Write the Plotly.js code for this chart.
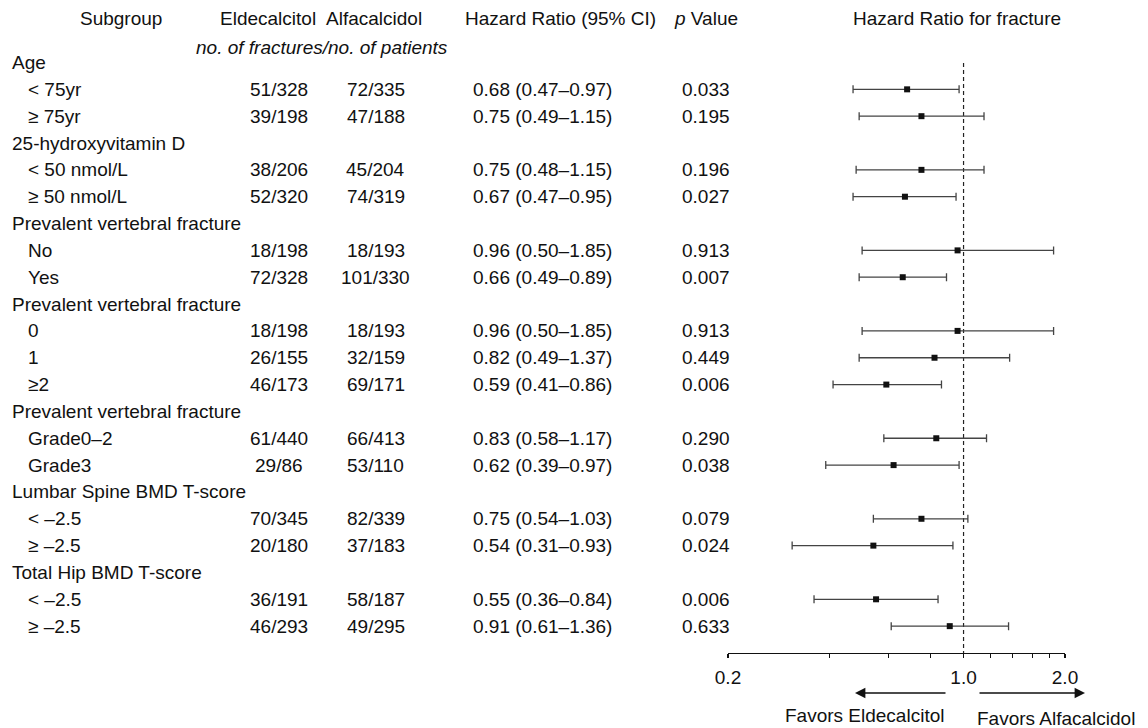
<!DOCTYPE html>
<html>
<head>
<meta charset="utf-8">
<script src="https://cdn.plot.ly/plotly-3.0.1.min.js"></script>
<style>html,body{margin:0;padding:0;background:#fff;}#chart{width:1148px;height:728px;}</style>
</head>
<body>
<div id="chart"></div>
<script>
// ---- data ----
var groupNames = ["Age", "25-hydroxyvitamin D", "Prevalent vertebral fracture", "Prevalent vertebral fracture",
                  "Prevalent vertebral fracture", "Lumbar Spine BMD T-score", "Total Hip BMD T-score"];
var groupSizes = [2, 2, 2, 3, 2, 2, 2];
var subgroups = ["< 75yr", "\u2265 75yr", "< 50 nmol/L", "\u2265 50 nmol/L", "No", "Yes", "0", "1", "\u22652",
                 "Grade0\u20132", "Grade3", "< \u20132.5", "\u2265 \u20132.5", "< \u20132.5", "\u2265 \u20132.5"];
var eldFractures = [51, 39, 38, 52, 18, 72, 18, 26, 46, 61, 29, 70, 20, 36, 46];
var eldPatients  = [328, 198, 206, 320, 198, 328, 198, 155, 173, 440, 86, 345, 180, 191, 293];
var alfFractures = [72, 47, 45, 74, 18, 101, 18, 32, 69, 66, 53, 82, 37, 58, 49];
var alfPatients  = [335, 188, 204, 319, 193, 330, 193, 159, 171, 413, 110, 339, 183, 187, 295];
var hazardRatio  = [0.68, 0.75, 0.75, 0.67, 0.96, 0.66, 0.96, 0.82, 0.59, 0.83, 0.62, 0.75, 0.54, 0.55, 0.91];
var ciLower      = [0.47, 0.49, 0.48, 0.47, 0.50, 0.49, 0.50, 0.49, 0.41, 0.58, 0.39, 0.54, 0.31, 0.36, 0.61];
var ciUpper      = [0.97, 1.15, 1.15, 0.95, 1.85, 0.89, 1.85, 1.37, 0.86, 1.17, 0.97, 1.03, 0.93, 0.84, 1.36];
var pValues      = ["0.033", "0.195", "0.196", "0.027", "0.913", "0.007", "0.913", "0.449", "0.006",
                    "0.290", "0.038", "0.079", "0.024", "0.006", "0.633"];
var tickValues = [0.2, 0.4, 0.6, 0.8, 1.0, 1.2, 1.4, 1.6, 1.8, 2.0];
var tickLabels = ["0.2", "", "", "", "1.0", "", "", "", "", "2.0"];
var headers = ["Subgroup", "Eldecalcitol", "Alfacalcidol", "Hazard Ratio (95% CI)", "<i>p</i> Value", "Hazard Ratio for fracture"];

// ---- layout constants ----
var W = 1148, H = 728;
var FONT = "Liberation Sans, Arial, Helvetica, sans-serif";
var FS = 19;
var TXT = '#111';
var colX = {eld: 279, alf: 376, hr: 542, p: 706};
function px(x) { return x / W; }
function py(y) { return 1 - y / H; }

// build row positions (row index)
var rowY = [];
var groupRowY = [];
var r = 0;
for (var g = 0; g < groupNames.length; g++) {
  groupRowY.push(r); r++;
  for (var j = 0; j < groupSizes[g]; j++) { rowY.push(r); r++; }
}

var ann = [];
function txt(x, y, t, anchor) {
  ann.push({xref: 'paper', yref: 'y', x: px(x), y: y, text: t, showarrow: false,
            xanchor: anchor || 'center', yanchor: 'middle', font: {family: FONT, size: FS, color: TXT}});
}
function ptxt(x, y, t, anchor) {
  ann.push({xref: 'paper', yref: 'paper', x: px(x), y: py(y), text: t, showarrow: false, borderpad: 0,
            xanchor: anchor || 'center', yanchor: 'middle', font: {family: FONT, size: FS, color: TXT}});
}

// headers
var headerX = [121, 268, 374, 560, 706, 957];
for (var h = 0; h < headers.length; h++) ptxt(headerX[h], 18, headers[h]);
ptxt(322, 48, "<i>no. of fractures/no. of patients</i>");

for (var g2 = 0; g2 < groupNames.length; g2++) txt(10, groupRowY[g2], groupNames[g2], 'left');
for (var i = 0; i < subgroups.length; i++) {
  txt(26, rowY[i], subgroups[i], 'left');
  txt(colX.eld, rowY[i], eldFractures[i] + "/" + eldPatients[i]);
  txt(colX.alf, rowY[i], alfFractures[i] + "/" + alfPatients[i]);
  txt(colX.hr, rowY[i], hazardRatio[i].toFixed(2) + " (" + ciLower[i].toFixed(2) + "\u2013" + ciUpper[i].toFixed(2) + ")");
  txt(colX.p, rowY[i], pValues[i]);
}

// arrows and favors text
ann.push({xref: 'paper', yref: 'paper', x: px(855), y: py(693), ax: 92, ay: 0, axref: 'pixel', ayref: 'pixel',
          text: '', showarrow: true, arrowhead: 2, arrowsize: 1.3, arrowwidth: 1.6, arrowcolor: '#111'});
ann.push({xref: 'paper', yref: 'paper', x: px(1085), y: py(693), ax: -107, ay: 0, axref: 'pixel', ayref: 'pixel',
          text: '', showarrow: true, arrowhead: 2, arrowsize: 1.3, arrowwidth: 1.6, arrowcolor: '#111'});
ptxt(864, 715, "Favors Eldecalcitol");
ptxt(1056, 718, "Favors Alfacalcidol");

// y range so that row index maps to pixel rows
var y0px = 62.5, rowH = 26.84, axisPx = 653;
var yTop = -y0px / rowH;
var yBottom = (axisPx - y0px) / rowH;

var errPlus = hazardRatio.map(function (v, i) { return ciUpper[i] - v; });
var errMinus = hazardRatio.map(function (v, i) { return v - ciLower[i]; });

var traces = [
  {x: [1, 1], y: [0.02, yBottom], mode: 'lines', line: {color: '#222', width: 1.2, dash: '4px,3px'},
   hoverinfo: 'skip', showlegend: false, cliponaxis: false},
  {x: hazardRatio, y: rowY, mode: 'markers', type: 'scatter', showlegend: false,
   marker: {symbol: 'square', size: 6, color: '#111'},
   error_x: {type: 'data', symmetric: false, array: errPlus, arrayminus: errMinus,
             color: '#444', thickness: 1.3, width: 4},
   cliponaxis: false}
];

var layout = {
  width: W, height: H,
  margin: {l: 0, r: 0, t: 0, b: 0},
  paper_bgcolor: '#fff', plot_bgcolor: '#fff',
  showlegend: false,
  xaxis: {type: 'log', range: [Math.log10(0.2), Math.log10(2.0)], domain: [px(728), px(1065)],
          showline: true, linecolor: '#111', linewidth: 1.2, ticks: 'outside', ticklen: 4, tickwidth: 1.2,
          tickcolor: '#111', tickvals: tickValues, ticktext: tickLabels, showgrid: false, zeroline: false,
          ticklabelstandoff: 3, tickfont: {family: FONT, size: FS, color: TXT}, fixedrange: true},
  yaxis: {range: [yBottom, yTop], domain: [1 - axisPx / H, 1], visible: false, showgrid: false,
          zeroline: false, fixedrange: true},
  annotations: ann
};

Plotly.newPlot('chart', traces, layout, {staticPlot: true, displayModeBar: false});
</script>
</body>
</html>
